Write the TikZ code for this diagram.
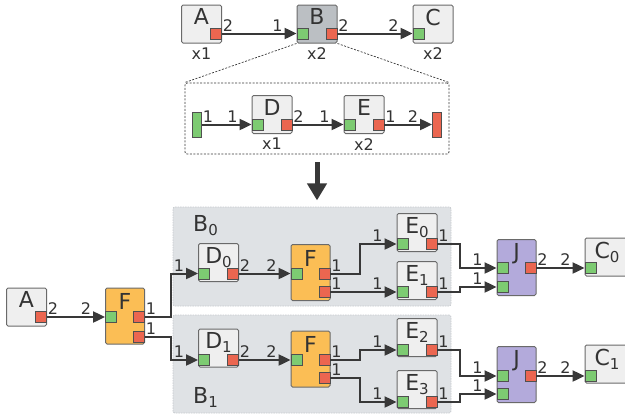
\documentclass[tikz,border=0pt]{standalone}
\usepackage{fontspec}
\setmainfont{DejaVu Sans}
\usepackage{tikz}
\usepackage{xcolor}
\usetikzlibrary{arrows.meta, positioning}

\definecolor{boxfill}{HTML}{EFEFEF}
\definecolor{boxline}{HTML}{6A6A6A}
\definecolor{bfill}{HTML}{BBBFC3}
\definecolor{forange}{HTML}{FBBE55}
\definecolor{jpurple}{HTML}{B3AADB}
\definecolor{portgreen}{HTML}{7DCB72}
\definecolor{portred}{HTML}{EB6650}
\definecolor{portline}{HTML}{505050}
\definecolor{regionfill}{HTML}{DFE2E5}
\definecolor{regionline}{HTML}{C6CACE}
\definecolor{wirecol}{HTML}{383838}
\definecolor{txt}{HTML}{333333}

\newcommand{\ttlfont}{\fontsize{22}{24}\selectfont}
\newcommand{\lblfont}{\fontsize{16}{18}\selectfont}
\newcommand{\multfont}{\fontsize{16}{18}\selectfont}
\newcommand{\idx}[1]{\raisebox{-4pt}{\fontsize{15}{17}\selectfont #1}}

\begin{document}
\begin{tikzpicture}[x=1pt, y=-1pt,
  blk/.style={draw=boxline, fill=boxfill, line width=1pt, rounded corners=1.5pt, minimum width=40pt, minimum height=38pt, inner sep=0pt},
  tall/.style={minimum width=39pt, minimum height=56pt},
  ttl/.style={anchor=north, inner sep=4pt, font=\ttlfont, text=txt},
  tallttl/.style={ttl, inner sep=6pt},
  inp/.style={draw=portline, fill=portgreen, line width=0.8pt, minimum size=11pt, inner sep=0pt},
  outp/.style={inp, fill=portred},
  wire/.style={draw=wirecol, line width=2pt, -{Triangle[length=12pt, width=11pt]}},
  bigarr/.style={draw=wirecol, line width=5pt, -{Triangle[length=17pt, width=19pt]}},
  sl/.style={anchor=south west, inner xsep=0pt, inner ysep=1.5pt, font=\lblfont, text=txt},
  el/.style={anchor=south east, inner xsep=0pt, inner ysep=1.5pt, xshift=-13pt, font=\lblfont, text=txt},
  mult/.style={inner sep=1pt, font=\multfont, text=txt},
  region/.style={draw=regionline, fill=regionfill, dash pattern=on 1.5pt off 1pt, line width=0.8pt, rounded corners=2pt},
  zoombox/.style={draw=wirecol, dash pattern=on 2pt off 1.5pt, line width=0.8pt, rounded corners=2pt},
  zoomline/.style={draw=wirecol, dash pattern=on 2pt off 1.5pt, line width=0.7pt}
]
  \useasboundingbox (0,0) rectangle (625,416);

  \node[blk, label={[ttl]north:A}] (tA) at (201.5,24) {};
  \node[outp] (tAo) at (216,33.5) {};
  \node[blk, fill=bfill, label={[ttl]north:B}] (tB) at (317,24) {};
  \node[inp] (tBi) at (302.5,33.5) {};
  \node[outp] (tBo) at (331.5,33.5) {};
  \node[blk, label={[ttl]north:C}] (tC) at (433,24) {};
  \node[inp] (tCi) at (418.5,33.5) {};
  \node[mult, below=3pt of tA] (tAx) {x1};
  \node[mult, below=3pt of tB] (tBx) {x2};
  \node[mult, below=3pt of tC] (tCx) {x2};
  \draw[wire] (tAo.east) -- node[sl, at start] {2} node[el, at end] {1} (tBi.west);
  \draw[wire] (tBo.east) -- node[sl, at start] {2} node[el, at end] {2} (tCi.west);

  \node[zoombox, minimum width=264pt, minimum height=71pt] (zB) at (317,118.5) {};
  \draw[zoomline] (tB.south west) -- (zB.north west);
  \draw[zoomline] (tB.south east) -- (zB.north east);
  \node[inp, minimum width=9pt, minimum height=25pt] (zin) at (197,124.5) {};
  \node[blk, label={[ttl]north:D}] (zD) at (272,114.5) {};
  \node[inp] (zDi) at (257.5,124.5) {};
  \node[outp] (zDo) at (286.5,124.5) {};
  \node[blk, label={[ttl]north:E}] (zE) at (364,114.5) {};
  \node[inp] (zEi) at (349.5,124.5) {};
  \node[outp] (zEo) at (378.5,124.5) {};
  \node[outp, minimum width=9pt, minimum height=25pt] (zout) at (437,124.5) {};
  \node[mult, below=3pt of zD] (zDx) {x1};
  \node[mult, below=3pt of zE] (zEx) {x2};
  \draw[wire] (zin.east) -- node[sl, at start] {1} node[el, at end] {1} (zDi.west);
  \draw[wire] (zDo.east) -- node[sl, at start] {2} node[el, at end] {1} (zEi.west);
  \draw[wire] (zEo.east) -- node[sl, at start] {1} node[el, at end] {2} (zout.west);

  \draw[bigarr] ([yshift=-8pt]zB.south) -- ++(0,38);

  \node[region, minimum width=278pt, minimum height=99pt] (rB0) at (312,256.5) {};
  \node[region, minimum width=278pt, minimum height=98pt] (rB1) at (312,364) {};
  \node[ttl, anchor=base west, inner sep=0pt] (rB0t) at (193,231) {B\idx{0}};
  \node[ttl, anchor=base west, inner sep=0pt] (rB1t) at (193,403) {B\idx{1}};

  \node[blk, label={[ttl]north:A}] (A) at (26.5,307) {};
  \node[outp] (Ao) at (41,317) {};
  \node[blk, tall, fill=forange, label={[tallttl]north:F}] (F) at (125,316) {};
  \node[inp] (Fi) at (111,317) {};
  \node[outp] (Fo1) at (139,317) {};
  \node[outp] (Fo2) at (139,336.5) {};

  \node[blk, label={[ttl]north:D\idx{0}}] (D0) at (218.5,262.5) {};
  \node[inp] (D0i) at (204,273.5) {};
  \node[outp] (D0o) at (233,273.5) {};
  \node[blk, label={[ttl]north:D\idx{1}}] (D1) at (218.5,348) {};
  \node[inp] (D1i) at (204,360) {};
  \node[outp] (D1o) at (233,360) {};

  \node[blk, tall, fill=forange, label={[tallttl]north:F}] (F0) at (310.5,272.5) {};
  \node[inp] (F0i) at (296.5,273.5) {};
  \node[outp] (F0o1) at (324.5,273.5) {};
  \node[outp] (F0o2) at (324.5,292) {};
  \node[blk, tall, fill=forange, label={[tallttl]north:F}] (F1) at (310.5,359) {};
  \node[inp] (F1i) at (296.5,360) {};
  \node[outp] (F1o1) at (324.5,360) {};
  \node[outp] (F1o2) at (324.5,378) {};

  \node[blk, label={[ttl]north:E\idx{0}}] (E0) at (417,232.5) {};
  \node[inp] (E0i) at (402.5,244) {};
  \node[outp] (E0o) at (431.5,244) {};
  \node[blk, label={[ttl]north:E\idx{1}}] (E1) at (417,280.5) {};
  \node[inp] (E1i) at (402.5,292) {};
  \node[outp] (E1o) at (431.5,292) {};
  \node[blk, label={[ttl]north:E\idx{2}}] (E2) at (417,337.5) {};
  \node[inp] (E2i) at (402.5,350) {};
  \node[outp] (E2o) at (431.5,350) {};
  \node[blk, label={[ttl]north:E\idx{3}}] (E3) at (417,389.5) {};
  \node[inp] (E3i) at (402.5,402) {};
  \node[outp] (E3o) at (431.5,402) {};

  \node[blk, tall, fill=jpurple, label={[ttl]north:J}] (J0) at (516.5,267.5) {};
  \node[inp] (J0i1) at (502.5,268) {};
  \node[inp] (J0i2) at (502.5,287) {};
  \node[outp] (J0o) at (530.5,268) {};
  \node[blk, tall, fill=jpurple, label={[ttl]north:J}] (J1) at (516.5,374.5) {};
  \node[inp] (J1i1) at (502.5,376) {};
  \node[inp] (J1i2) at (502.5,394) {};
  \node[outp] (J1o) at (530.5,376) {};

  \node[blk, minimum width=44pt, label={[ttl]north:C\idx{0}}] (C0) at (607,257) {};
  \node[inp] (C0i) at (590.5,268) {};
  \node[blk, minimum width=44pt, label={[ttl]north:C\idx{1}}] (C1) at (607,364) {};
  \node[inp] (C1i) at (590.5,376) {};

  \draw[wire] (Ao.east) -- node[sl, at start] {2} node[el, at end] {2} (Fi.west);
  \draw[wire] (Fo1.east) -- node[sl, at start] {1} ++(26.5,0) |- node[el, at end] {1} (D0i.west);
  \draw[wire] (Fo2.east) -- node[sl, at start] {1} ++(26.5,0) |- node[el, at end] {1} (D1i.west);
  \draw[wire] (D0o.east) -- node[sl, at start] {2} node[el, at end] {2} (F0i.west);
  \draw[wire] (D1o.east) -- node[sl, at start] {2} node[el, at end] {2} (F1i.west);
  \draw[wire] (F0o1.east) -- node[sl, at start] {1} ++(29.5,0) |- node[el, at end] {1} (E0i.west);
  \draw[wire] (F0o2.east) -- node[sl, at start] {1} node[el, at end] {1} (E1i.west);
  \draw[wire] (F1o1.east) -- node[sl, at start] {1} ++(29.5,0) |- node[el, at end] {1} (E2i.west);
  \draw[wire] (F1o2.east) -- node[sl, at start] {1} ++(29.5,0) |- node[el, at end] {1} (E3i.west);
  \draw[wire] (E0o.east) -- node[sl, at start] {1} ++(23,0) |- node[el, at end] {1} (J0i1.west);
  \draw[wire] (E1o.east) -- node[sl, at start] {1} ++(23,0) |- node[el, at end] {1} (J0i2.west);
  \draw[wire] (E2o.east) -- node[sl, at start] {1} ++(23,0) |- node[el, at end] {1} (J1i1.west);
  \draw[wire] (E3o.east) -- node[sl, at start] {1} ++(23,0) |- node[el, at end] {1} (J1i2.west);
  \draw[wire] (J0o.east) -- node[sl, at start] {2} node[el, at end] {2} (C0i.west);
  \draw[wire] (J1o.east) -- node[sl, at start] {2} node[el, at end] {2} (C1i.west);
\end{tikzpicture}
\end{document}
